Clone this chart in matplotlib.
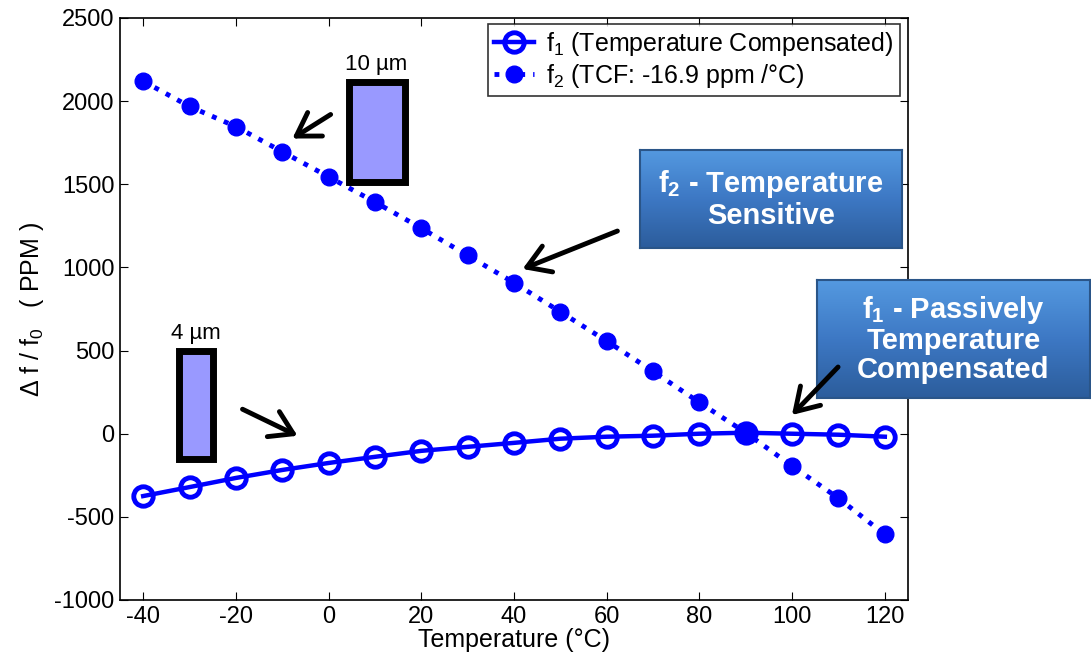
import numpy as np
import matplotlib
matplotlib.use("Agg")
import matplotlib.pyplot as plt
from matplotlib.patches import Rectangle, FancyArrowPatch
from matplotlib.colors import LinearSegmentedColormap

plt.rcParams['font.family'] = ['Liberation Sans', 'DejaVu Sans']
plt.rcParams['mathtext.fontset'] = 'custom'
plt.rcParams['mathtext.rm'] = 'Liberation Sans'
plt.rcParams['mathtext.bf'] = 'Liberation Sans:bold'
plt.rcParams['mathtext.default'] = 'regular'
plt.rcParams['axes.unicode_minus'] = False

temps = [-40, -30, -20, -10, 0, 10, 20, 30, 40, 50, 60, 70, 80, 90, 100, 110, 120]
f1_ppm = [-375, -321, -266, -218, -176, -139, -103, -79, -55, -30, -18, -12, 0, 6, 0, -6, -18]
f2_ppm = [2120, 1968, 1847, 1696, 1545, 1393, 1236, 1072, 908, 733, 557, 375, 188, 6, -194, -388, -606]
xticks = [-40, -20, 0, 20, 40, 60, 80, 100, 120]
yticks = [-1000, -500, 0, 500, 1000, 1500, 2000, 2500]

W, H = 1091, 666
fig = plt.figure(figsize=(W / 100, H / 100), dpi=100)
ax = fig.add_axes([120 / W, 1 - 600 / H, 788 / W, 582 / H])

blue = '#0000ff'
ax.plot(temps, f1_ppm, '-', color=blue, lw=3.2, marker='o', ms=14, mfc='none',
        mew=3.5, label='f$_1$ (Temperature Compensated)')
ax.plot(temps, f2_ppm, ':', color=blue, lw=3.5, marker='o', ms=12, mfc=blue,
        mew=1, label='f$_2$ (TCF: -16.9 ppm /°C)')

ax.set_xlim(-45, 125)
ax.set_ylim(-1000, 2500)
ax.set_xticks(xticks)
ax.set_yticks(yticks)
ax.tick_params(direction='in', top=True, right=True, length=6, labelsize=17, pad=4)
for s in ax.spines.values():
    s.set_linewidth(1.2)
ax.set_xlabel('Temperature (°C)', fontsize=18, labelpad=0)
ax.set_ylabel('Δ f / f$_0$   ( PPM )', fontsize=18, labelpad=6)

leg = ax.legend(loc='upper right', bbox_to_anchor=(0.99, 0.99), fontsize=18,
                frameon=True, fancybox=False, edgecolor='black', handlelength=1.6,
                borderpad=0.25, labelspacing=0.15, handletextpad=0.5, borderaxespad=0)
leg.get_frame().set_linewidth(1.2)


def px(x, y):
    return x / W, 1 - y / H


# gradient callout boxes
cmap = LinearSegmentedColormap.from_list('box', ['#5499e0', '#3d78c4', '#2c5d9c'])
grad = np.linspace(0, 1, 64).reshape(-1, 1)


def callout(x0, y0, x1, y1, text):
    bx = fig.add_axes([x0 / W, 1 - y1 / H, (x1 - x0) / W, (y1 - y0) / H], zorder=5)
    bx.imshow(grad, aspect='auto', cmap=cmap, extent=[0, 1, 0, 1])
    bx.set_xticks([])
    bx.set_yticks([])
    for s in bx.spines.values():
        s.set_color('#2a5588')
        s.set_linewidth(1.5)
    bx.text(0.5, 0.5, text, color='white', fontsize=21, fontweight='bold',
            ha='center', va='center', linespacing=1.05)


callout(640, 150, 902, 248, 'f$_\\mathbf{2}$ - Temperature\nSensitive')
callout(817, 280, 1090, 398, 'f$_\\mathbf{1}$ - Passively\nTemperature\nCompensated')

# device sketches
for (x0, y0, x1, y1, lab) in [(345, 78, 408, 185, '10 µm'), (175, 347, 216, 462, '4 µm')]:
    bx0, by0 = px(x0 + 3.5, y1 - 3.5)
    bx1, by1 = px(x1 - 3.5, y0 + 3.5)
    fig.add_artist(Rectangle((bx0, by0), bx1 - bx0, by1 - by0, transform=fig.transFigure,
                             facecolor='#9999ff', edgecolor='black', lw=5, zorder=6))
    tx, ty = px((x0 + x1) / 2, y0 - 3)
    fig.text(tx, ty, lab, ha='center', va='bottom', fontsize=16, zorder=6)

# arrows
for (xs, ys, xe, ye) in [(333, 113, 290, 140), (620, 230, 520, 270),
                         (840, 365, 790, 417), (240, 408, 300, 437)]:
    fig.add_artist(FancyArrowPatch(
        px(xs, ys), px(xe, ye), transform=fig.transFigure,
        arrowstyle='->,head_length=8,head_width=5', lw=3.5, color='black',
        mutation_scale=2, zorder=7))

fig.savefig('out.png', dpi=100)
